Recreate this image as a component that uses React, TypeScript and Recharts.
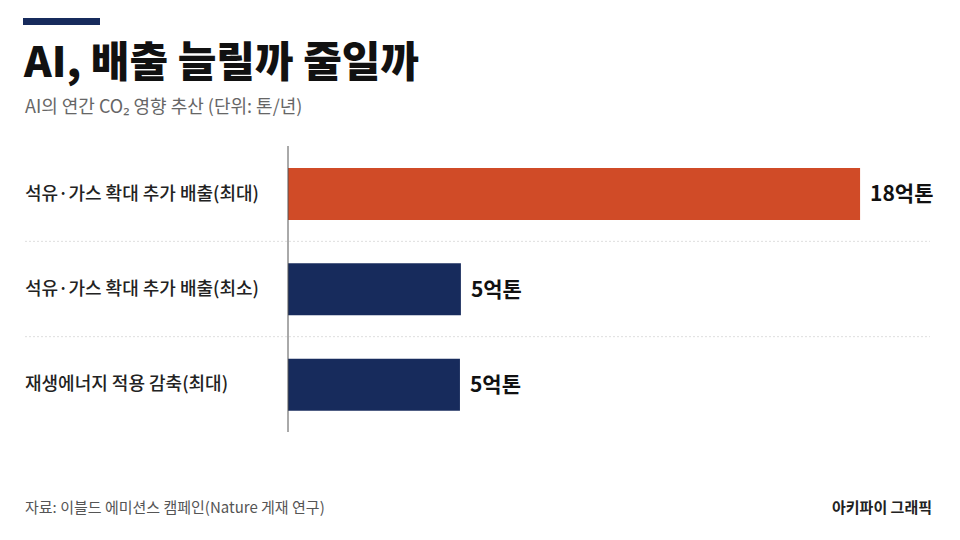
import React from "react";
import { BarChart, Bar, XAxis, YAxis, CartesianGrid, LabelList, Cell } from "recharts";

const categories = [
  "석유·가스 확대 추가 배출(최대)",
  "석유·가스 확대 추가 배출(최소)",
  "재생에너지 적용 감축(최대)",
];
const values = [18, 5.44, 5.41];
const valueLabels = ["18억톤", "5억톤", "5억톤"];
const barColors = ["#D04B27", "#172B5C", "#172B5C"];

const data = categories.map((c, i) => ({ name: c, value: values[i], label: valueLabels[i] }));

const FONT = "'Noto Sans CJK KR', 'Noto Sans', sans-serif";

const CategoryTick = (props: any) => {
  const { y, payload } = props;
  return (
    <text x={25} y={y} dy={6} textAnchor="start" fontFamily={FONT} fontSize={18} fontWeight={500} fill="#222">
      {payload.value}
    </text>
  );
};

export default function App() {
  return (
    <div
      style={{
        position: "fixed",
        left: 0,
        top: 0,
        width: 960,
        height: 540,
        background: "#ffffff",
        fontFamily: FONT,
        overflow: "hidden",
      }}
    >
      <div style={{ position: "absolute", left: 23, top: 18, width: 77, height: 7, background: "#172B5C" }} />
      <div
        style={{
          position: "absolute",
          left: 24,
          top: 38,
          fontSize: 42,
          fontWeight: 900,
          color: "#111",
          lineHeight: "42px",
          letterSpacing: 0,
          whiteSpace: "nowrap",
        }}
      >
        AI, 배출 늘릴까 줄일까
      </div>
      <div
        style={{
          position: "absolute",
          left: 25,
          top: 93,
          fontSize: 18,
          fontWeight: 400,
          color: "#666",
          lineHeight: "24px",
          whiteSpace: "nowrap",
        }}
      >
        AI의 연간 CO₂ 영향 추산 (단위: 톤/년)
      </div>
      <div style={{ position: "absolute", left: 0, top: 0 }}>
        <BarChart
          width={960}
          height={540}
          data={data}
          layout="vertical"
          margin={{ top: 146, right: 30, bottom: 108, left: 25 }}
          barSize={52}
        >
          <CartesianGrid
            x={25}
            width={905}
            vertical={false}
            stroke="#dedede"
            strokeDasharray="2 2"
            horizontalCoordinatesGenerator={({ offset }: any) => [
              offset.top + offset.height / 3,
              offset.top + (offset.height * 2) / 3,
            ]}
          />
          <XAxis type="number" domain={[0, 20.2]} hide />
          <YAxis
            type="category"
            dataKey="name"
            width={263}
            axisLine={{ stroke: "#555", strokeWidth: 1 }}
            tickLine={false}
            tick={<CategoryTick />}
          />
          <Bar dataKey="value" isAnimationActive={false}>
            {data.map((d, i) => (
              <Cell key={i} fill={barColors[i]} />
            ))}
            <LabelList
              dataKey="label"
              position="right"
              offset={10}
              fill="#111"
              fontSize={21}
              fontWeight={700}
              fontFamily={FONT}
            />
          </Bar>
        </BarChart>
      </div>
      <div
        style={{
          position: "absolute",
          left: 25,
          top: 496,
          fontSize: 15,
          color: "#555",
          lineHeight: "22px",
          whiteSpace: "nowrap",
        }}
      >
        자료: 이블드 에미션스 캠페인(Nature 게재 연구)
      </div>
      <div
        style={{
          position: "absolute",
          right: 28,
          top: 496,
          fontSize: 15,
          fontWeight: 700,
          color: "#222",
          lineHeight: "22px",
          whiteSpace: "nowrap",
        }}
      >
        아키파이 그래픽
      </div>
    </div>
  );
}
